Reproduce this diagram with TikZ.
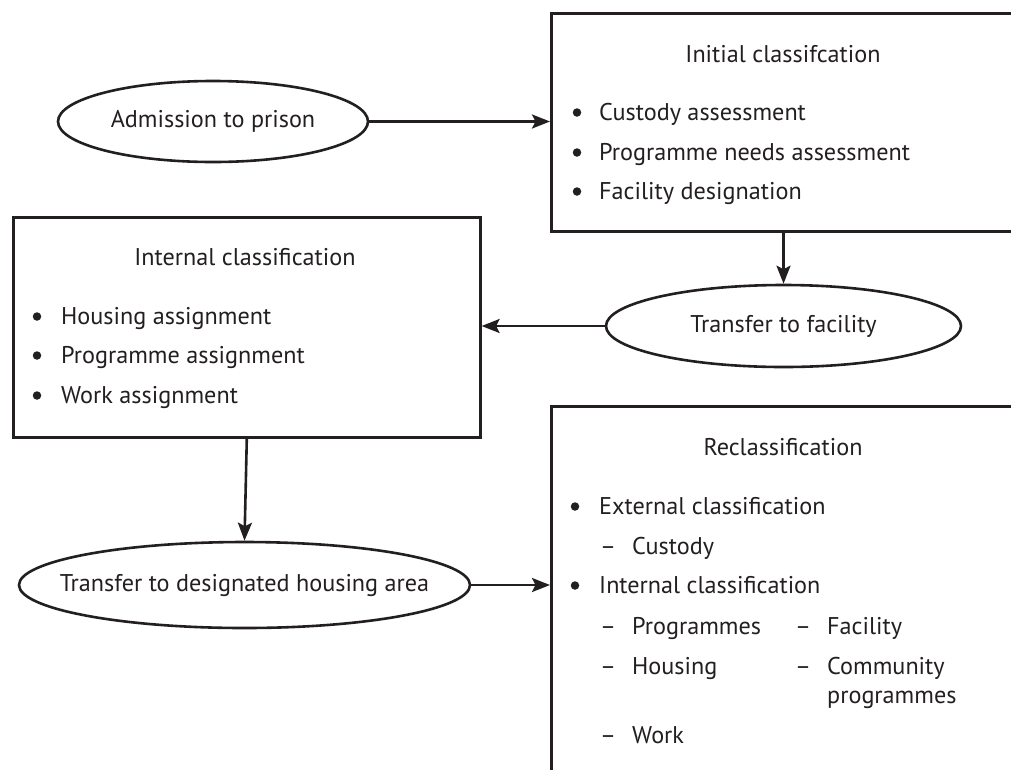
\documentclass[tikz,border=0pt]{standalone}
\usepackage{fontspec}
\setmainfont{PT Sans}
\usetikzlibrary{arrows.meta,shapes.geometric}
\definecolor{ink}{RGB}{35,31,32}
\tikzset{
  boxed/.style={draw=ink,line width=2.6pt,rectangle,anchor=north west,inner sep=0pt},
  oval/.style={draw=ink,line width=2.6pt,ellipse,inner sep=0pt},
  ovaltext/.style={inner sep=0pt,text=ink,font=\fontsize{24.2}{29}\selectfont},
  txt/.style={anchor=base west,inner sep=0pt,text=ink,font=\fontsize{24.2}{29}\selectfont},
  ttl/.style={anchor=base,inner sep=0pt,text=ink,font=\fontsize{24.2}{29}\selectfont},
  dot/.style={circle,fill=ink,inner sep=0pt,minimum size=8.5pt},
  conn/.style={draw=ink,line width=2.6pt,-{Stealth[length=18pt,width=14pt,inset=3.5pt]}}
}
\begin{document}
\begin{tikzpicture}[x=1pt,y=-1pt]
\useasboundingbox (0,0) rectangle (1011,769);
\clip (0,0) rectangle (1011,769);
\fill[white] (0,0) rectangle (1011,769);
% boxes
\node[boxed,minimum width=520pt,minimum height=218pt] (init) at (550,12) {};
\node[boxed,minimum width=467pt,minimum height=220pt] (intl) at (12,216) {};
\node[boxed,minimum width=520pt,minimum height=420pt] (recl) at (550,405) {};
% ellipses
\node[oval,minimum width=310pt,minimum height=81pt] (admit) at (213,121.5) {};
\node[ovaltext] (admitt) at (admit.center) {Admission to prison};
\node[oval,minimum width=355pt,minimum height=82pt] (trans) at (783.5,326) {};
\node[ovaltext] (transt) at (trans.center) {Transfer to facility};
\node[oval,minimum width=451pt,minimum height=86pt] (house) at (244.5,585) {};
\node[ovaltext] (houset) at (house.center) {Transfer to designated housing area};
% initial classification text
\node[ttl] (t1) at (783,62) {Initial classifcation};
\node[dot] (b11) at (577,112.5) {};
\node[txt] (i11) at (599,120) {Custody assessment};
\node[dot] (b12) at (577,152.5) {};
\node[txt] (i12) at (599,160) {Programme needs assessment};
\node[dot] (b13) at (577,191.5) {};
\node[txt] (i13) at (599,199) {Facility designation};
% internal classification text
\node[ttl] (t2) at (245,265) {Internal classification};
\node[dot] (b21) at (37,316.5) {};
\node[txt] (i21) at (61,324) {Housing assignment};
\node[dot] (b22) at (37,355.5) {};
\node[txt] (i22) at (61,363) {Programme assignment};
\node[dot] (b23) at (37,395.5) {};
\node[txt] (i23) at (61,403) {Work assignment};
% reclassification text
\node[ttl] (t3) at (783,455) {Reclassification};
\node[dot] (b31) at (575,506.5) {};
\node[txt] (i31) at (599,514) {External classification};
\node[txt] (d31) at (600,554) {–};
\node[txt] (s31) at (632,554) {Custody};
\node[dot] (b32) at (575,585.5) {};
\node[txt] (i32) at (599,593) {Internal classification};
\node[txt] (d32) at (600,634) {–};
\node[txt] (s32) at (632,634) {Programmes};
\node[txt] (d33) at (795,634) {–};
\node[txt] (s33) at (827,634) {Facility};
\node[txt] (d34) at (600,674) {–};
\node[txt] (s34) at (632,674) {Housing};
\node[txt] (d35) at (795,674) {–};
\node[txt] (s35) at (827,674) {Community};
\node[txt] (s36) at (827,703) {programmes};
\node[txt] (d37) at (600,743) {–};
\node[txt] (s37) at (632,743) {Work};
% connectors
\draw[conn] (admit.east) -- (admit.east -| init.west);
\draw[conn] (trans.north |- init.south) -- (trans.north);
\draw[conn] (trans.west) -- (trans.west -| intl.east);
\draw[conn] (intl.south) -- (house.north);
\draw[conn] (house.east) -- (house.east -| recl.west);
\end{tikzpicture}
\end{document}
